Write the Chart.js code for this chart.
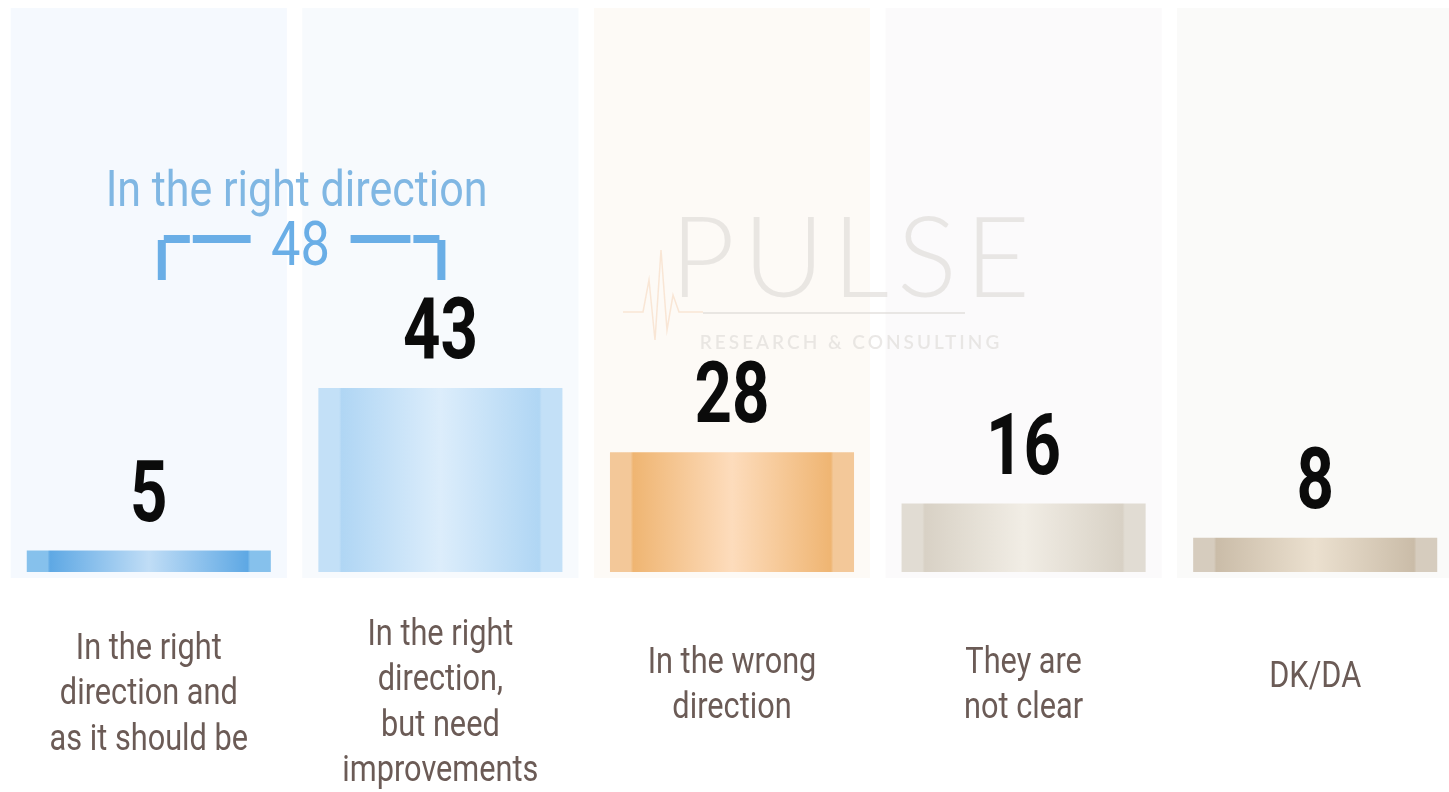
<!DOCTYPE html>
<html>
<head>
<meta charset="utf-8">
<script src="https://cdn.jsdelivr.net/npm/chart.js@4/dist/chart.umd.min.js"></script>
<style>
  html, body { margin: 0; padding: 0; background: #fff; overflow: hidden; }
  #wrap { position: absolute; left: 3px; top: 0; width: 1458px; height: 792px; }
</style>
</head>
<body>
<div id="wrap"><canvas id="dirChart"></canvas></div>
<script>
// data
const categories = [
  ["In the right", "direction and", "as it should be"],
  ["In the right", "direction,", "but need", "improvements"],
  ["In the wrong", "direction"],
  ["They are", "not clear"],
  ["DK/DA"],
];
const values = [5, 43, 28, 16, 8];
const groupTitle = "In the right direction";
const groupMembers = [0, 1];

// styles: [edge, dark, light]
const barColors = [
  ["#86c1ec", "#5ea8e4", "#c0ddf6"],
  ["#c3e0f7", "#b0d6f4", "#dcedfb"],
  ["#f3c899", "#efb572", "#fddcbc"],
  ["#e1dcd3", "#d8d1c5", "#f1ede5"],
  ["#d6ccbe", "#cabca8", "#ebe0cf"],
];
const panelColors = ["#f5f9fe", "#f7fafd", "#fdfaf6", "#fbfafb", "#fafaf9"];
const BAR_PCT = 0.837;

function condText(ctx, text, x, y, font, color, sx) {
  ctx.save();
  ctx.translate(x, y);
  ctx.scale(sx, 1);
  ctx.font = font;
  ctx.fillStyle = color;
  ctx.textAlign = "center";
  ctx.fillText(text, 0, 0);
  ctx.restore();
}

function barGradient(c) {
  const i = c.dataIndex;
  const chart = c.chart;
  if (i === undefined || !chart.chartArea) return "#b0d6f4";
  const { chartArea } = chart;
  const x = chart.scales.x.getPixelForValue(i);
  const w = ((chartArea.right - chartArea.left) / values.length) * BAR_PCT;
  const [edge, dark, light] = barColors[i];
  const g = chart.ctx.createLinearGradient(x - w / 2, 0, x + w / 2, 0);
  g.addColorStop(0, edge);
  g.addColorStop(0.085, edge);
  g.addColorStop(0.095, dark);
  g.addColorStop(0.5, light);
  g.addColorStop(0.905, dark);
  g.addColorStop(0.915, edge);
  g.addColorStop(1, edge);
  return g;
}

const backdrop = {
  id: "backdrop",
  beforeDatasetsDraw(chart) {
    const { ctx, chartArea, scales } = chart;
    const step = (chartArea.right - chartArea.left) / values.length;
    const pw = step * 0.947;
    ctx.save();
    values.forEach((v, i) => {
      const x = scales.x.getPixelForValue(i);
      ctx.fillStyle = panelColors[i];
      ctx.fillRect(x - pw / 2, 8, pw, chartArea.bottom + 6 - 8);
    });

    // watermark
    ctx.globalAlpha = 0.6;
    ctx.fillStyle = "#dcd9d6";
    ctx.textAlign = "center";
    ctx.textBaseline = "alphabetic";
    ctx.font = "300 112px Lato";
    ctx.letterSpacing = "8px";
    ctx.fillText("PULSE", 851, 297);
    ctx.font = "600 19px Lato";
    ctx.letterSpacing = "3px";
    ctx.fillText("RESEARCH & CONSULTING", 848, 349);
    ctx.letterSpacing = "0px";
    ctx.fillRect(700, 312, 262, 2);
    ctx.strokeStyle = "#f6d9bf";
    ctx.lineWidth = 1.5;
    ctx.beginPath();
    ctx.moveTo(620, 312);
    ctx.lineTo(640, 312);
    ctx.lineTo(646, 280);
    ctx.lineTo(652, 340);
    ctx.lineTo(658, 250);
    ctx.lineTo(664, 330);
    ctx.lineTo(670, 295);
    ctx.lineTo(676, 312);
    ctx.lineTo(700, 312);
    ctx.stroke();
    ctx.restore();
  },
};

const labels = {
  id: "labels",
  afterDatasetsDraw(chart) {
    const { ctx, scales } = chart;
    const meta = chart.getDatasetMeta(0);
    ctx.save();
    ctx.textBaseline = "alphabetic";

    // value labels
    meta.data.forEach((bar, i) => {
      condText(ctx, String(values[i]), bar.x, bar.y - 30, "bold 86px Roboto", "#0b0b0b", 0.76);
    });

    // category labels
    ctx.textBaseline = "middle";
    categories.forEach((lines, i) => {
      const x = scales.x.getPixelForValue(i);
      const lh = 45.5;
      const mid = 669 + 8.7 * lines.length;
      lines.forEach((t, k) => {
        const y = mid + (k - (lines.length - 1) / 2) * lh;
        condText(ctx, t, x, y, "37px Roboto", "#6b5b56", 0.83);
      });
    });

    // group bracket
    const x0 = scales.x.getPixelForValue(groupMembers[0]) + 10;
    const x1 = scales.x.getPixelForValue(groupMembers[groupMembers.length - 1]);
    const cx = (scales.x.getPixelForValue(groupMembers[0]) + x1) / 2 + 2;
    const total = groupMembers.reduce((s, i) => s + values[i], 0);
    ctx.textBaseline = "alphabetic";
    condText(ctx, groupTitle, cx, 206, "50px Roboto", "#80b7e3", 0.86);
    condText(ctx, String(total), cx + 4, 265, "61px Roboto", "#6aaee6", 0.86);

    ctx.strokeStyle = "#6aaee6";
    ctx.lineWidth = 8;
    ctx.setLineDash([40, 3, 26, 3, 60]);
    ctx.lineCap = "butt";
    ctx.beginPath();
    ctx.moveTo(x0 + 3, 280);
    ctx.lineTo(x0 + 3, 239);
    ctx.lineTo(cx - 46, 239);
    ctx.stroke();
    ctx.beginPath();
    ctx.moveTo(x1 + 1, 280);
    ctx.lineTo(x1 + 1, 239);
    ctx.lineTo(cx + 54, 239);
    ctx.stroke();
    ctx.restore();
  },
};

new Chart(document.getElementById("dirChart").getContext("2d"), {
  type: "bar",
  data: {
    labels: categories,
    datasets: [
      {
        data: values,
        backgroundColor: barGradient,
        borderWidth: 0,
        barPercentage: BAR_PCT,
        categoryPercentage: 1,
      },
    ],
  },
  options: {
    responsive: true,
    maintainAspectRatio: false,
    animation: false,
    layout: { padding: { top: 144, bottom: 220, left: 0, right: 0 } },
    plugins: {
      legend: { display: false },
      tooltip: { enabled: false },
    },
    scales: {
      x: { display: false },
      y: { display: false, min: 0, max: 100 },
    },
  },
  plugins: [backdrop, labels],
});
</script>
</body>
</html>
